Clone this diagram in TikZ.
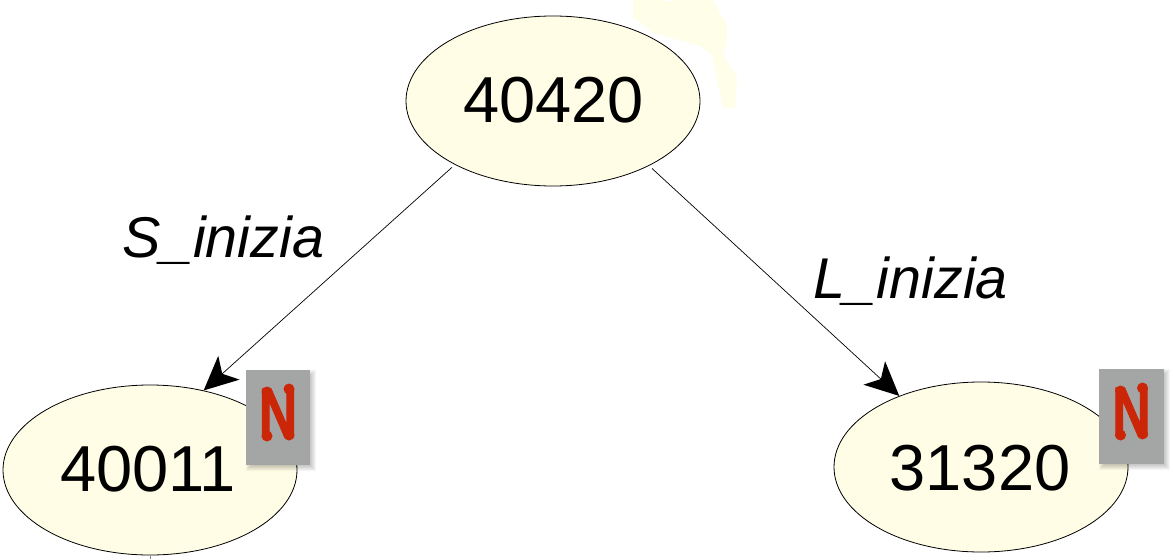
\documentclass[tikz,border=0pt]{standalone}
\usepackage{fontspec}
\setmainfont{Liberation Sans}
\newfontfamily\nfont[FakeStretch=0.76,FakeBold=1.5]{Liberation Sans Bold}
\usetikzlibrary{arrows.meta,shapes.geometric}
\definecolor{statefill}{HTML}{FFFDE6}
\definecolor{blobfill}{HTML}{FFFEE8}
\definecolor{flaggray}{HTML}{A3A6A5}
\definecolor{flagred}{HTML}{CB2607}
\tikzset{
  x=1pt,y=-1pt,
  statenode/.style={draw=black,line width=0.8pt,fill=statefill,ellipse,minimum width=294pt,minimum height=170pt,inner sep=0pt},
  num/.style={anchor=base,inner sep=0pt,font=\fontsize{65}{65}\selectfont},
  edgelabel/.style={anchor=base,inner sep=0pt,font=\fontsize{57.5}{58}\selectfont\itshape},
  conn/.style={line width=0.7pt,shorten <=4pt,-{Stealth[length=34pt,width=32pt,inset=9pt,line width=0pt]}},
  flagbox/.style={fill=flaggray,minimum width=64pt,minimum height=95pt,inner sep=0pt},
  flagletter/.style={inner sep=0pt,text=flagred,font=\nfont\fontsize{70}{70}\selectfont},
  bonetip/.style={fill=flagred,circle,minimum size=11pt,inner sep=0pt}
}
\newcommand{\softshadow}[4]{%
  \foreach \g in {5,4,3,2,1,0}{
    \fill[black,opacity=0.04] ({#1+5-\g},{#2+5-\g}) rectangle ({#3+1+\g},{#4+1+\g});
  }}
\begin{document}
\begin{tikzpicture}
\useasboundingbox (0,0) rectangle (1174,559);
% pale smudge behind the top state
\fill[blobfill] (633,0) -- (633,17) -- (653,33) -- (700,46) -- (712,55) -- (723,108) -- (735,108) -- (737,77) -- (723,55) -- (727,40) -- (727,25) -- (713,0) -- (674,0) -- (668,2) -- (662,0) -- cycle;
\node[statenode] (top) at (553,101) {};
\node[statenode] (left) at (150,470) {};
\node[statenode] (right) at (981,467) {};
\node[num] (toptext) at (553.5,122) {40420};
\node[num] (lefttext) at (148,491) {40011};
\node[num] (righttext) at (980,490) {31320};
\draw[conn] (top.213.6) -- (left.56);
\draw[conn] (top.-34) -- (right.139.5);
\node[edgelabel] (slabel) at (223.5,257) {S\_inizia};
\node[edgelabel] (llabel) at (910.5,298) {L\_inizia};
\softshadow{246}{370}{310}{465}
\node[flagbox] (flagl) at (278,417.5) {};
\node[flagletter] (nl) at (278,413) {N};
\foreach \dx/\dy [count=\i] in {-11/-21,11/-24,-11/23,11/22}
  \node[bonetip] (tipl\i) at (278+\dx,413+\dy) {};
\softshadow{1099}{369}{1164}{464}
\node[flagbox,minimum width=65pt] (flagr) at (1131.5,416.5) {};
\node[flagletter] (nr) at (1131.5,412) {N};
\foreach \dx/\dy [count=\i] in {-11/-21,11/-24,-11/23,11/22}
  \node[bonetip] (tipr\i) at (1131.5+\dx,412+\dy) {};
\draw[gray,line width=0.8pt] (left.south) ++(0,1) -- ++(0,3);
\end{tikzpicture}
\end{document}
